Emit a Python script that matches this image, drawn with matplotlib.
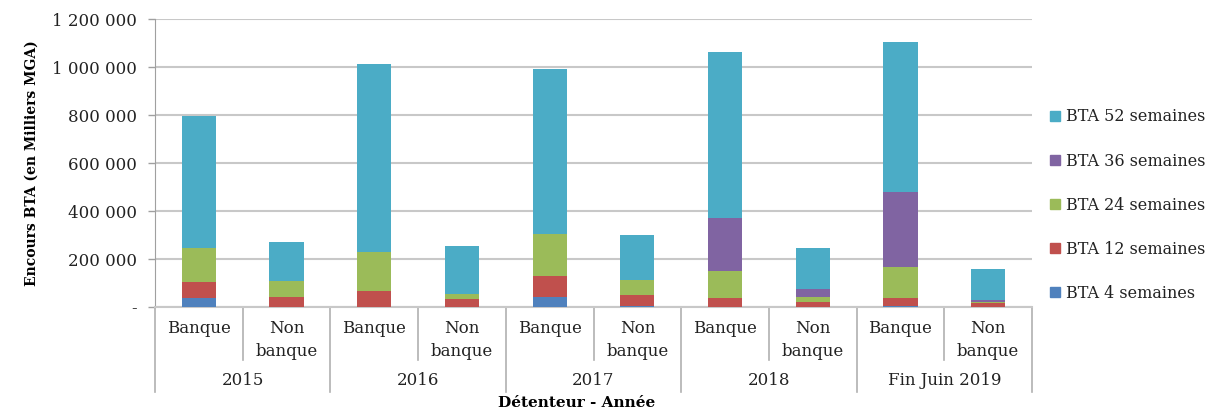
import matplotlib.pyplot as plt
from matplotlib.patches import Patch

# valeurs (en milliers de MGA)
categories = ['Banque', 'Non\nbanque'] * 5
annees = ['2015', '2016', '2017', '2018', 'Fin Juin 2019']
bta4 = [39000, 2000, 0, 2000, 43000, 3000, 0, 0, 3000, 1000]
bta12 = [66000, 40000, 67000, 33000, 86000, 46000, 36000, 22000, 34000, 14000]
bta24 = [142000, 66000, 162000, 20000, 176000, 62000, 113000, 18000, 130000, 6000]
bta36 = [0, 0, 0, 0, 0, 0, 222000, 36000, 312000, 7000]
bta52 = [550000, 163000, 784000, 198000, 688000, 190000, 692000, 170000, 627000, 129000]

series = [('BTA 4 semaines', bta4, '#4F81BD'),
          ('BTA 12 semaines', bta12, '#C0504D'),
          ('BTA 24 semaines', bta24, '#9BBB59'),
          ('BTA 36 semaines', bta36, '#8064A2'),
          ('BTA 52 semaines', bta52, '#4BACC6')]

plt.rcParams['font.family'] = 'DejaVu Serif'
fig = plt.figure(figsize=(12.11, 4.12), dpi=100)
ax = fig.add_axes([155 / 1211, 1 - 307 / 412, 877 / 1211, 288 / 412])

x = list(range(len(categories)))
bas = [0] * len(categories)
for nom, vals, coul in series:
    ax.bar(x, vals, 0.39, bottom=bas, color=coul, edgecolor='none', zorder=3)
    bas = [b + v for b, v in zip(bas, vals)]

ax.set_xlim(-0.5, len(categories) - 0.5)
ax.set_ylim(0, 1200000)
ticks = list(range(0, 1200001, 200000))
ax.set_yticks(ticks)
ax.set_yticklabels(['-'] + ['{:,}'.format(t).replace(',', ' ') for t in ticks[1:]], fontsize=12, color='#222222')
ax.yaxis.grid(True, color='#c8c8c8', linewidth=1.5, zorder=0)
ax.tick_params(axis='y', length=5, color='#a0a0a0', width=1, pad=8)
ax.tick_params(axis='x', length=0, labelbottom=False)
for s in ['top', 'right']:
    ax.spines[s].set_visible(False)
ax.spines['left'].set_color('#a0a0a0')
ax.spines['bottom'].set_color('#c8c8c8')
ax.spines['bottom'].set_linewidth(1.5)

# axe des x hiérarchique
tr = ax.get_xaxis_transform()
for i, c in enumerate(categories):
    ax.text(i, -0.045, c, transform=tr, ha='center', va='top', fontsize=12,
            color='#222222', linespacing=1.45)
for k, a in enumerate(annees):
    ax.text(2 * k + 0.5, -0.255, a, transform=tr, ha='center', va='center',
            fontsize=12, color='#222222')
for k in range(len(annees)):
    ax.plot([2 * k + 0.5] * 2, [0, -0.184], transform=tr, color='#b0b0b0',
            lw=1.2, clip_on=False)
for k in range(len(annees) + 1):
    ax.plot([2 * k - 0.5] * 2, [0, -0.295], transform=tr, color='#b0b0b0',
            lw=1.2, clip_on=False)

ax.set_ylabel('Encours BTA (en Milliers MGA)', fontsize=10, fontweight='bold', labelpad=10)
fig.text(577 / 1211, 1 - 403 / 412, 'Détenteur - Année', ha='center', va='center',
         fontsize=11, fontweight='bold')

poignees = [Patch(color=c, label=n) for n, v, c in series[::-1]]
fig.legend(handles=poignees, loc='upper left', bbox_to_anchor=(1036 / 1211, 1 - 94 / 412),
           frameon=False, fontsize=11.5, handlelength=0.6, handleheight=0.6,
           handletextpad=0.4, labelspacing=1.7, labelcolor='#222222')

plt.savefig('out.png')
